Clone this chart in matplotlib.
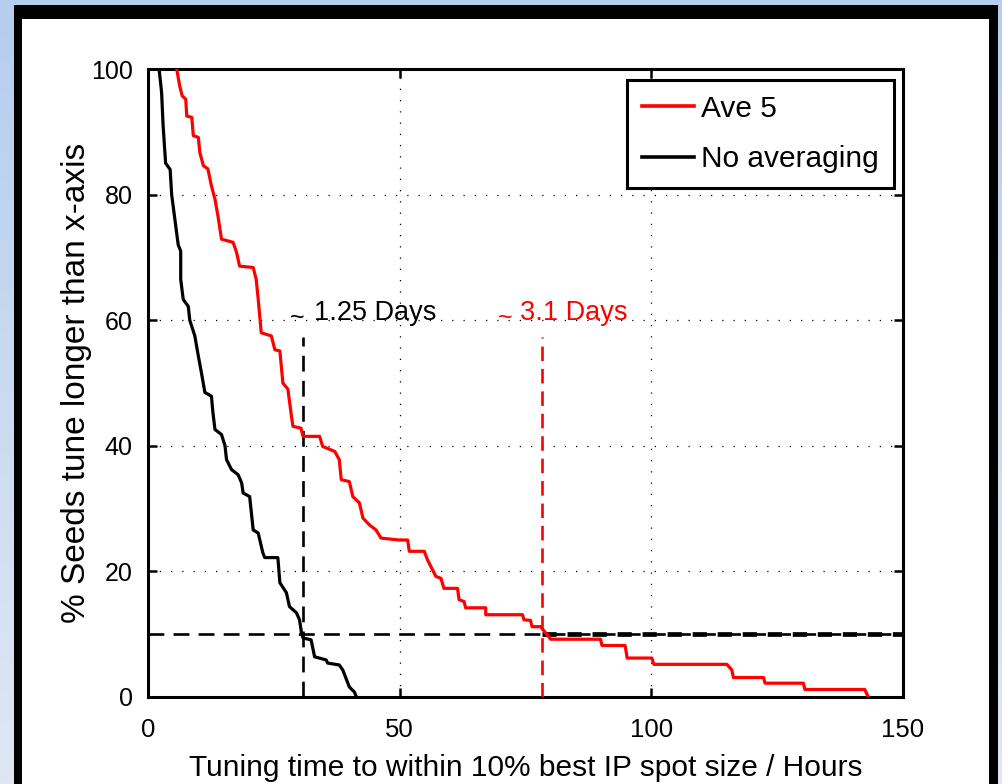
import numpy as np
import matplotlib
matplotlib.use("Agg")
import matplotlib.pyplot as plt
from matplotlib.patches import Rectangle

# Fraction of seeds (%) still tuning after a given time (hours)
no_avg_hours = [2.2, 2.7, 3.0, 3.5, 4.4, 4.7, 5.35, 6.0, 6.5, 6.5, 7.0, 8.0, 8.3, 9.3,
                10.0, 10.6, 11.3, 12.6, 12.9, 13.3, 14.6, 15.3, 15.6, 16.6, 17.9, 18.6,
                18.9, 20.2, 20.9, 21.9, 22.8, 23.2, 25.8, 26.2, 27.5, 28.1, 29.5, 30.1,
                30.5, 30.8, 32.4, 33.1, 35.4, 35.7, 38.0, 38.7, 40.0, 41.0, 41.4]
no_avg_pct = [100, 96.3, 91, 85, 84, 80, 76, 72, 71, 66.5, 63.3, 62.2, 60, 57.5,
              54.3, 51.7, 48.5, 47.9, 45.3, 42.6, 41.8, 40, 37.8, 36.2, 35.4, 34.1,
              32.5, 31.9, 26.6, 26.1, 23, 22.2, 22.2, 18.2, 16.6, 14.4, 13.4, 12.3,
              10.2, 9.4, 9.1, 6.4, 5.9, 5.4, 5.1, 4.3, 1.6, 0.8, 0]

ave5_hours = [5.7, 6.3, 6.8, 7.5, 7.7, 8.7, 9.0, 10.0, 10.3, 11.0, 11.9, 12.6, 13.3,
              13.9, 14.6, 16.9, 17.6, 18.2, 20.9, 21.5, 21.9, 22.5, 24.5, 25.2, 26.2,
              26.8, 27.8, 28.5, 28.8, 30.4, 30.8, 34.1, 34.7, 37.1, 38.0, 38.4, 40.0,
              40.7, 42.0, 42.7, 44.0, 45.3, 46.3, 49.9, 51.6, 51.9, 54.9, 55.5, 56.5,
              57.2, 58.2, 58.8, 61.5, 61.8, 62.8, 63.1, 67.1, 67.1, 74.4, 74.7, 76.0,
              76.3, 78.0, 79.0, 80.0, 89.9, 90.2, 94.8, 95.2, 100.1, 100.5, 115.0,
              116.0, 116.3, 122.3, 122.6, 130.2, 130.5, 142.4, 143.1]
ave5_pct = [100, 97.3, 95.7, 95.2, 92.5, 92.3, 89.4, 89.1, 86.7, 84.6, 84.1, 81.4, 79.3,
            76.6, 72.9, 72.4, 70.8, 68.6, 68.4, 66.5, 63.3, 58, 57.5, 55.3, 55.1,
            50, 49, 44.7, 43.1, 42.8, 41.5, 41.5, 39.9, 39.1, 37.8, 34.6, 34.3,
            31.9, 30.9, 28.5, 27.4, 26.6, 25.3, 25.0, 25.0, 23.2, 23.2, 21.9, 20.3,
            19.2, 18.9, 17.3, 17.3, 15.5, 15.2, 14.2, 14.2, 13.1, 13.1, 12.3, 12.2,
            11.2, 11.2, 10.2, 9.2, 9.2, 8.2, 8.2, 6.2, 6.2, 5.2, 5.2,
            4.3, 3.1, 3.1, 2.2, 2.2, 1.2, 1.2, 0]

threshold_pct = 10
no_avg_cross = 30.8
ave5_cross = 78.2
marker_top = 57.3

x_ticks = [0, 50, 100, 150]
y_ticks = [0, 20, 40, 60, 80, 100]

FONT = "Liberation Sans"
plt.rcParams["font.family"] = [FONT, "DejaVu Sans"]

W, H = 1002, 784
fig = plt.figure(figsize=(W / 100, H / 100), dpi=100)

# slide background: soft blue gradient
bg = fig.add_axes([0, 0, 1, 1], zorder=-10)
top_c = np.array([181, 205, 238]) / 255
bot_c = np.array([224, 231, 243]) / 255
t = np.linspace(0, 1, 256)[:, None]
grad = (top_c[None, :] * (1 - t) + bot_c[None, :] * t)[:, None, :]
bg.imshow(grad, aspect="auto", extent=[0, 1, 0, 1], origin="upper")
bg.set_axis_off()

# framed white panel
def px_rect(x0, y0, x1, y1, color):
    fig.patches.append(Rectangle((x0 / W, 1 - y1 / H), (x1 - x0) / W, (y1 - y0) / H,
                                 transform=fig.transFigure, facecolor=color,
                                 edgecolor="none", zorder=-5))

px_rect(14, 5, 998, 800, "black")
px_rect(22, 19, 989, 800, "white")

ax = fig.add_axes([148 / W, 1 - 697 / H, (903 - 148) / W, (697 - 69) / H])
ax.set_xlim(0, 150)
ax.set_ylim(0, 100)

ax.plot(ave5_hours, ave5_pct, color="red", lw=2.3, label="Ave 5", zorder=4)
ax.plot(no_avg_hours, no_avg_pct, color="black", lw=2.3, label="No averaging", zorder=4)

# 10% threshold and crossing markers
ax.plot([0, 150], [threshold_pct, threshold_pct], color="black", lw=1.9,
        dashes=(6, 3.5), zorder=3)
ax.plot([ave5_cross, 150], [threshold_pct, threshold_pct], color="black", lw=3.4,
        dashes=(3, 2.3), zorder=3)
ax.plot([no_avg_cross, no_avg_cross], [0, marker_top], color="black", lw=1.9,
        dashes=(6, 3.5), zorder=3)
ax.plot([ave5_cross, ave5_cross], [0, marker_top], color="red", lw=1.9,
        dashes=(5.5, 3), zorder=3)

ax.text(28.2, 60.4, "~", fontsize=18, color="black", va="center", ha="left")
ax.text(32.9, 61.2, "1.25 Days", fontsize=19.5, color="black", va="center", ha="left")
ax.text(69.5, 60.4, "~", fontsize=18, color="red", va="center", ha="left")
ax.text(73.9, 61.2, "3.1 Days", fontsize=19.5, color="red", va="center", ha="left")

ax.set_xticks(x_ticks)
ax.set_yticks(y_ticks)
ax.set_xticklabels([str(v) for v in x_ticks])
ax.set_yticklabels([str(v) for v in y_ticks])
ax.tick_params(direction="in", length=6.5, width=1.8, labelsize=18, pad=11,
               top=True, right=True)
ax.tick_params(axis="x", pad=15, labelsize=18.5)
ax.grid(True, color="black", linestyle=(0, (1, 8)), lw=0.9)
for s in ax.spines.values():
    s.set_linewidth(2.2)

ax.set_xlabel("Tuning time to within 10% best IP spot size / Hours", fontsize=21.5,
              labelpad=9)
ax.set_ylabel("% Seeds tune longer than x-axis", fontsize=24, labelpad=-1)

leg = ax.legend(loc="upper right", bbox_to_anchor=(0.988, 0.983), fontsize=21.5,
                handlelength=1.75, handletextpad=0.25, borderpad=0.5,
                labelspacing=0.75, fancybox=False, framealpha=1, edgecolor="black",
                borderaxespad=0)
leg.get_frame().set_linewidth(2.2)
for ln in leg.get_lines():
    ln.set_linewidth(2.6)

fig.savefig("out.png", dpi=100)
